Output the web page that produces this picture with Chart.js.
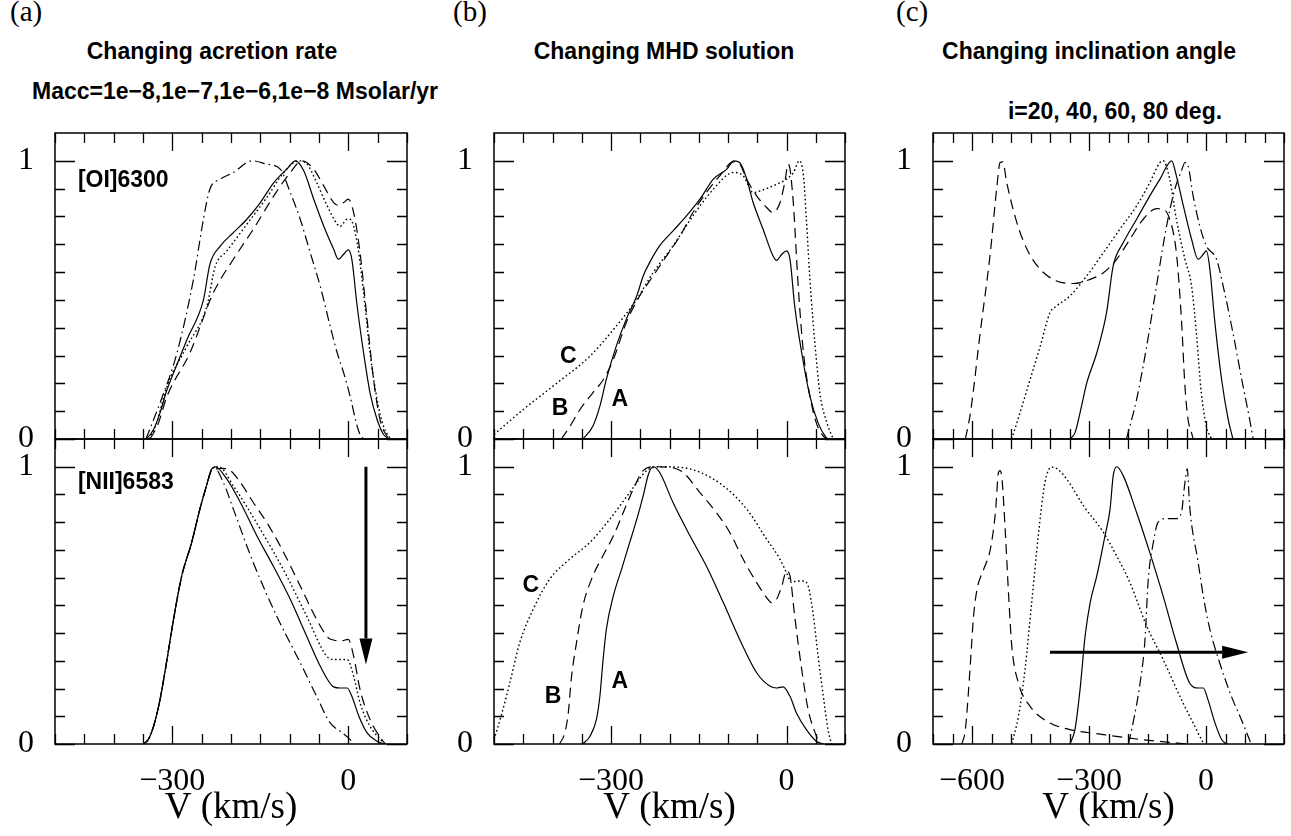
<!DOCTYPE html>
<html>
<head>
<meta charset="utf-8">
<script src="https://cdn.jsdelivr.net/npm/chart.js@4.4.1/dist/chart.umd.min.js"></script>
<style>
    body { margin: 0; background: #fff; width: 1291px; height: 836px; position: relative; overflow: hidden; }
    canvas { position: absolute; left: 0; top: 0; }
    .hd { position: absolute; white-space: nowrap; line-height: 1; color: #000; }
    .lab { font-family: "Liberation Serif", serif; font-size: 29px; }
    .ttl { font-family: "Liberation Sans", Arial, sans-serif; font-weight: bold; font-size: 23px; transform: translateX(-50%); }
</style>
</head>
<body>
<div class="hd lab" style="left:10px;top:-3px">(a)</div>
<div class="hd lab" style="left:453px;top:-3px">(b)</div>
<div class="hd lab" style="left:896px;top:-3px">(c)</div>
<div class="hd ttl" style="left:212px;top:40px">Changing acretion rate</div>
<div class="hd ttl" style="left:664px;top:40px">Changing MHD solution</div>
<div class="hd ttl" style="left:1089px;top:40px">Changing inclination angle</div>
<div class="hd ttl" style="left:235px;top:80px">Macc=1e−8,1e−7,1e−6,1e−8 Msolar/yr</div>
<div class="hd ttl" style="left:1115px;top:100px">i=20, 40, 60, 80 deg.</div>

<canvas id="c0" width="1291" height="836"></canvas>
<canvas id="c1" width="1291" height="836"></canvas>
<canvas id="c2" width="1291" height="836"></canvas>
<canvas id="c3" width="1291" height="836"></canvas>
<canvas id="c4" width="1291" height="836"></canvas>
<canvas id="c5" width="1291" height="836"></canvas>

<script>
// tick labels
const velTicksAB = [-300, 0];
const velTicksC = [-600, -300, 0];
const fluxTicks = [0, 1];

// (a) changing accretion rate, pairs of [V km/s, normalised flux]
const rateOI_solid = [[-350,0],[-343,0.004],[-332,0.034],[-321,0.094],[-309,0.178],[-298,0.237],[-275,0.358],[-247,0.50],[-236,0.628],[-218,0.694],[-196,0.742],[-173,0.79],[-150,0.85],[-127,0.922],[-105,0.97],[-90,1.0],[-76,0.964],[-59,0.862],[-42,0.766],[-25,0.682],[-17,0.646],[-8,0.664],[0,0.68],[6,0.646],[15,0.478],[26,0.31],[37,0.166],[49,0.07],[60,0.016],[69,0]];
const rateOI_dot = [[-340,0],[-328,0.05],[-309,0.19],[-275,0.334],[-241,0.478],[-227,0.62],[-207,0.676],[-173,0.772],[-139,0.868],[-110,0.958],[-85,1.0],[-71,0.99],[-54,0.922],[-36,0.838],[-19,0.772],[-14,0.764],[-2,0.79],[3,0.79],[15,0.706],[26,0.526],[37,0.31],[49,0.142],[60,0.046],[72,0]];
const rateOI_dash = [[-338,0],[-325,0.05],[-309,0.154],[-270,0.31],[-230,0.526],[-196,0.646],[-162,0.754],[-127,0.874],[-99,0.958],[-79,1.0],[-59,0.97],[-42,0.91],[-25,0.85],[-17,0.84],[-8,0.85],[0,0.862],[9,0.814],[20,0.67],[32,0.43],[43,0.214],[54,0.07],[66,0.01],[72,0]];
const rateOI_dd = [[-345,0],[-321,0.13],[-292,0.31],[-264,0.574],[-247,0.79],[-236,0.898],[-218,0.934],[-196,0.958],[-164,1.0],[-139,0.988],[-116,0.97],[-99,0.886],[-82,0.79],[-65,0.67],[-48,0.55],[-31,0.406],[-19,0.31],[-8,0.238],[3,0.154],[15,0.046],[20,0.016],[26,0]];

const rateNII_solid = [[-349,0],[-341,0.016],[-332,0.064],[-321,0.16],[-310,0.293],[-298,0.449],[-284,0.606],[-267,0.727],[-253,0.847],[-241,0.937],[-233,0.992],[-227,1.0],[-207,0.955],[-184,0.871],[-156,0.751],[-128,0.642],[-99,0.522],[-71,0.389],[-48,0.281],[-25,0.206],[-14,0.202],[-2,0.202],[6,0.172],[18,0.1],[32,0.04],[49,0.01],[60,0]];
const rateNII_dot = [[-349,0],[-341,0.016],[-332,0.064],[-321,0.16],[-310,0.293],[-298,0.449],[-284,0.606],[-267,0.727],[-253,0.847],[-241,0.937],[-233,0.99],[-221,1.0],[-196,0.931],[-150,0.775],[-105,0.606],[-71,0.461],[-37,0.317],[-25,0.305],[-2,0.305],[9,0.245],[20,0.148],[37,0.064],[55,0.016],[63,0]];
const rateNII_dash = [[-349,0],[-341,0.016],[-332,0.064],[-321,0.16],[-310,0.293],[-298,0.449],[-284,0.606],[-267,0.727],[-253,0.847],[-241,0.937],[-233,0.985],[-216,0.994],[-201,0.986],[-184,0.943],[-162,0.871],[-139,0.799],[-116,0.714],[-82,0.57],[-54,0.449],[-34,0.383],[-25,0.375],[-14,0.371],[0,0.377],[9,0.317],[20,0.196],[37,0.088],[55,0.022],[63,0]];
const rateNII_dd = [[-349,0],[-341,0.016],[-332,0.064],[-321,0.16],[-310,0.293],[-298,0.449],[-284,0.606],[-267,0.727],[-253,0.847],[-241,0.937],[-233,0.992],[-230,1.0],[-213,0.943],[-196,0.847],[-162,0.654],[-122,0.461],[-82,0.293],[-54,0.172],[-31,0.076],[-14,0.046],[3,0.016],[9,0]];

// (b) changing MHD solution A (solid), B (dashed), C (dotted)
const mhdOI_A = [[-348,0],[-331,0.046],[-319,0.118],[-308,0.214],[-291,0.334],[-274,0.43],[-256,0.514],[-245,0.586],[-234,0.634],[-217,0.694],[-194,0.748],[-171,0.802],[-148,0.862],[-125,0.934],[-102,0.97],[-90,1.0],[-80,0.994],[-68,0.934],[-57,0.85],[-40,0.754],[-23,0.658],[-17,0.642],[-8,0.664],[0,0.676],[6,0.646],[14,0.478],[26,0.31],[40,0.154],[54,0.058],[66,0.01],[71,0]];
const mhdOI_B = [[-385,0],[-370,0.046],[-353,0.106],[-331,0.166],[-313,0.214],[-296,0.286],[-274,0.418],[-251,0.514],[-228,0.586],[-205,0.658],[-182,0.73],[-160,0.814],[-137,0.886],[-114,0.946],[-91,0.996],[-80,0.988],[-68,0.934],[-51,0.874],[-34,0.832],[-23,0.814],[-11,0.85],[-3,0.922],[3,0.988],[6,0.97],[12,0.838],[20,0.55],[29,0.31],[40,0.154],[51,0.058],[63,0.01],[69,0]];
const mhdOI_C = [[-500,0.016],[-450,0.106],[-393,0.2],[-336,0.298],[-291,0.406],[-256,0.502],[-228,0.598],[-194,0.694],[-160,0.802],[-125,0.898],[-91,0.958],[-74,0.946],[-57,0.886],[-45,0.892],[-23,0.91],[0,0.934],[12,0.958],[22,1.0],[29,0.946],[34,0.79],[40,0.574],[49,0.334],[57,0.166],[69,0.058],[80,0]];

const mhdNII_A = [[-348,0],[-336,0.028],[-325,0.088],[-319,0.172],[-314,0.293],[-308,0.413],[-296,0.534],[-282,0.63],[-268,0.727],[-256,0.81],[-245,0.895],[-236,0.973],[-228,1.0],[-217,0.98],[-194,0.871],[-165,0.751],[-137,0.642],[-108,0.51],[-80,0.377],[-51,0.257],[-28,0.208],[-17,0.202],[-6,0.206],[6,0.172],[17,0.112],[34,0.052],[51,0.01],[63,0]];
const mhdNII_B = [[-388,0],[-379,0.04],[-373,0.112],[-368,0.233],[-359,0.365],[-348,0.498],[-331,0.606],[-314,0.678],[-296,0.75],[-279,0.835],[-262,0.919],[-245,0.986],[-228,1.0],[-200,0.998],[-177,0.98],[-148,0.907],[-120,0.835],[-97,0.763],[-74,0.666],[-51,0.582],[-34,0.528],[-26,0.51],[-17,0.522],[-8,0.57],[0,0.624],[6,0.606],[14,0.461],[26,0.269],[37,0.124],[49,0.04],[57,0]];
const mhdNII_C = [[-500,0.016],[-488,0.1],[-473,0.22],[-456,0.365],[-433,0.486],[-405,0.594],[-371,0.666],[-336,0.727],[-302,0.811],[-268,0.907],[-239,0.986],[-217,1.0],[-182,0.998],[-148,0.98],[-108,0.931],[-68,0.847],[-34,0.739],[-11,0.666],[0,0.618],[9,0.582],[17,0.588],[29,0.588],[37,0.57],[46,0.461],[54,0.317],[63,0.172],[71,0.052],[77,0]];

// (c) changing inclination angle
const inclOI_dash = [[-617,0],[-604,0.094],[-579,0.382],[-553,0.67],[-536,0.91],[-528,0.994],[-521,0.996],[-511,0.922],[-485,0.778],[-459,0.682],[-425,0.61],[-383,0.568],[-340,0.559],[-297,0.574],[-263,0.598],[-229,0.646],[-195,0.718],[-161,0.79],[-127,0.828],[-110,0.826],[-93,0.79],[-76,0.67],[-63,0.43],[-54,0.19],[-46,0.07],[-37,0.022],[-33,0]];
const inclOI_dot = [[-498,0],[-477,0.094],[-451,0.214],[-425,0.334],[-400,0.454],[-383,0.478],[-349,0.514],[-306,0.586],[-263,0.67],[-221,0.754],[-178,0.838],[-144,0.922],[-118,0.994],[-110,1.0],[-93,0.934],[-76,0.79],[-54,0.646],[-37,0.55],[-24,0.37],[-12,0.166],[1,0.046],[14,0]];
const inclOI_solid = [[-349,0],[-336,0.022],[-323,0.094],[-306,0.2],[-280,0.31],[-255,0.454],[-238,0.622],[-212,0.706],[-178,0.79],[-144,0.874],[-118,0.934],[-88,1.0],[-76,0.946],[-58,0.838],[-37,0.718],[-20,0.646],[-7,0.664],[1,0.676],[10,0.61],[22,0.43],[40,0.214],[57,0.07],[69,0]];
const inclOI_dd = [[-204,0],[-178,0.142],[-152,0.334],[-127,0.55],[-101,0.766],[-80,0.898],[-63,0.964],[-54,0.994],[-46,0.982],[-33,0.874],[-16,0.766],[1,0.694],[27,0.646],[44,0.55],[69,0.382],[95,0.19],[112,0.07],[121,0]];

const inclNII_dash = [[-626,0],[-617,0.052],[-604,0.293],[-596,0.461],[-587,0.558],[-570,0.63],[-553,0.702],[-540,0.835],[-532,0.98],[-528,0.986],[-523,0.955],[-515,0.775],[-506,0.534],[-498,0.353],[-481,0.22],[-451,0.136],[-408,0.082],[-349,0.052],[-263,0.034],[-178,0.018],[-93,0.006],[-50,0]];
const inclNII_dot = [[-498,0],[-481,0.1],[-464,0.269],[-447,0.51],[-430,0.751],[-413,0.943],[-396,0.998],[-383,0.994],[-357,0.955],[-314,0.859],[-263,0.763],[-229,0.678],[-195,0.582],[-152,0.425],[-110,0.305],[-59,0.148],[-33,0.076],[-7,0.004],[-5,0]];
const inclNII_solid = [[-349,0],[-336,0.052],[-323,0.196],[-310,0.389],[-297,0.51],[-280,0.606],[-259,0.751],[-246,0.847],[-238,0.967],[-229,1.0],[-212,0.967],[-178,0.835],[-144,0.69],[-110,0.534],[-76,0.365],[-42,0.22],[-20,0.202],[-7,0.202],[5,0.16],[23,0.076],[40,0.016],[52,0]];
const inclNII_dd = [[-199,0],[-187,0.076],[-169,0.22],[-157,0.365],[-148,0.594],[-135,0.727],[-123,0.799],[-101,0.813],[-76,0.813],[-63,0.835],[-54,0.943],[-48,0.992],[-42,0.859],[-20,0.654],[-7,0.534],[10,0.413],[35,0.293],[65,0.172],[87,0.1],[108,0.028],[116,0]];

const W = 1291, H = 836;
const dashes = { solid: [], dot: [1.6, 2.6], dash: [10, 6], dd: [10, 4, 1.6, 4] };

// frame with inward ticks on all four sides, plus text notes and arrows
const framePlugin = {
    id: 'frame',
    afterDatasetsDraw(chart, args, opts) {
        const ctx = chart.ctx;
        const a = chart.chartArea;
        const x = chart.scales.x, y = chart.scales.y;
        ctx.save();
        ctx.strokeStyle = '#000';
        ctx.lineWidth = 1.5;
        ctx.strokeRect(a.left, a.top, a.right - a.left, a.bottom - a.top);
        ctx.lineWidth = 1.3;
        ctx.beginPath();
        for (let v = Math.ceil(x.min / 50) * 50; v <= x.max; v += 50) {
            const px = Math.round(x.getPixelForValue(v)) + 0.5;
            const len = v % 300 === 0 ? 18 : 10;
            ctx.moveTo(px, a.bottom); ctx.lineTo(px, a.bottom - len);
            ctx.moveTo(px, a.top); ctx.lineTo(px, a.top + len);
        }
        for (let k = 0; k <= 10; k++) {
            const py = Math.round(y.getPixelForValue(k / 10)) + 0.5;
            const len = (k === 0 || k === 10) ? 20 : 10;
            ctx.moveTo(a.left, py); ctx.lineTo(a.left + len, py);
            ctx.moveTo(a.right, py); ctx.lineTo(a.right - len, py);
        }
        ctx.stroke();

        ctx.fillStyle = '#000';
        ctx.font = 'bold 23px "Liberation Sans", Arial, sans-serif';
        ctx.textBaseline = 'middle';
        (opts.notes || []).forEach(n => {
            ctx.textAlign = n.align || 'center';
            ctx.fillText(n.text, x.getPixelForValue(n.v), y.getPixelForValue(n.f));
        });

        if (opts.arrow) {
            const [v0, f0, v1, f1] = opts.arrow;
            const x0 = x.getPixelForValue(v0), y0 = y.getPixelForValue(f0);
            const x1 = x.getPixelForValue(v1), y1 = y.getPixelForValue(f1);
            const ang = Math.atan2(y1 - y0, x1 - x0);
            const hl = 26, hw = 6.5;
            ctx.lineWidth = 3;
            ctx.beginPath();
            ctx.moveTo(x0, y0);
            ctx.lineTo(x1 - hl * Math.cos(ang), y1 - hl * Math.sin(ang));
            ctx.stroke();
            ctx.beginPath();
            ctx.moveTo(x1, y1);
            ctx.lineTo(x1 - hl * Math.cos(ang) - hw * Math.sin(ang), y1 - hl * Math.sin(ang) + hw * Math.cos(ang));
            ctx.lineTo(x1 - hl * Math.cos(ang) + hw * Math.sin(ang), y1 - hl * Math.sin(ang) - hw * Math.cos(ang));
            ctx.closePath();
            ctx.fill();
        }
        ctx.restore();
    }
};

function makePanel(id, box, range, velTicks, series, showX, notes, arrow) {
    const yW = 45;
    const datasets = series.map(s => ({
        data: s[0].map(p => ({ x: p[0], y: p[1] })),
        borderColor: '#000',
        borderWidth: s[1] === 'dot' ? 1.4 : 1.2,
        borderDash: dashes[s[1]],
        pointRadius: 0,
        fill: false,
        cubicInterpolationMode: 'monotone'
    }));
    new Chart(document.getElementById(id), {
        type: 'line',
        data: { datasets: datasets },
        plugins: [framePlugin],
        options: {
            responsive: false,
            animation: false,
            devicePixelRatio: 1,
            layout: { padding: { left: box.left - yW, top: box.top, right: W - box.right, bottom: showX ? 0 : H - box.bottom } },
            plugins: {
                legend: { display: false },
                tooltip: { enabled: false },
                frame: { notes: notes, arrow: arrow }
            },
            scales: {
                x: {
                    type: 'linear', min: range[0], max: range[1], display: showX,
                    grid: { display: false, drawTicks: false }, border: { display: false },
                    afterBuildTicks: s => { s.ticks = velTicks.map(v => ({ value: v })); },
                    afterFit: s => { s.height = showX ? H - box.bottom : 0; },
                    ticks: {
                        autoSkip: false, maxRotation: 0, padding: 18, color: '#000',
                        font: { family: '"Liberation Serif", serif', size: 32 },
                        callback: v => String(v).replace('-', '\u2212')
                    },
                    title: {
                        display: true, text: 'V (km/s)', color: '#000',
                        font: { family: '"Liberation Serif", serif', size: 37 },
                        padding: { top: 0, bottom: 6 }
                    }
                },
                y: {
                    type: 'linear', min: 0, max: 1.1,
                    grid: { display: false, drawTicks: false }, border: { display: false },
                    afterBuildTicks: s => { s.ticks = fluxTicks.map(v => ({ value: v })); },
                    afterFit: s => { s.width = yW; },
                    ticks: { autoSkip: false, padding: 21, color: '#000', font: { family: '"Liberation Serif", serif', size: 32 } }
                }
            }
        }
    });
}

const topRow = { top: 133, bottom: 439 }, botRow = { top: 439, bottom: 744 };
const colA = { left: 55, right: 407 }, colB = { left: 494, right: 845 }, colC = { left: 933, right: 1284 };

makePanel('c0', Object.assign({}, colA, topRow), [-500, 100], velTicksAB,
    [[rateOI_solid, 'solid'], [rateOI_dot, 'dot'], [rateOI_dash, 'dash'], [rateOI_dd, 'dd']], false,
    [{ text: '[OI]6300', v: -461, f: 0.93, align: 'left' }], null);
makePanel('c1', Object.assign({}, colA, botRow), [-500, 100], velTicksAB,
    [[rateNII_solid, 'solid'], [rateNII_dot, 'dot'], [rateNII_dash, 'dash'], [rateNII_dd, 'dd']], true,
    [{ text: '[NII]6583', v: -461, f: 0.944, align: 'left' }], [30, 1.0, 30, 0.287]);
makePanel('c2', Object.assign({}, colB, topRow), [-500, 100], velTicksAB,
    [[mhdOI_A, 'solid'], [mhdOI_B, 'dash'], [mhdOI_C, 'dot']], false,
    [{ text: 'C', v: -373, f: 0.295 }, { text: 'B', v: -387, f: 0.11 }, { text: 'A', v: -285, f: 0.14 }], null);
makePanel('c3', Object.assign({}, colB, botRow), [-500, 100], velTicksAB,
    [[mhdNII_A, 'solid'], [mhdNII_B, 'dash'], [mhdNII_C, 'dot']], true,
    [{ text: 'C', v: -437, f: 0.572 }, { text: 'B', v: -399, f: 0.172 }, { text: 'A', v: -285, f: 0.225 }], null);
makePanel('c4', Object.assign({}, colC, topRow), [-700, 200], velTicksC,
    [[inclOI_solid, 'solid'], [inclOI_dot, 'dot'], [inclOI_dash, 'dash'], [inclOI_dd, 'dd']], false, [], null);
makePanel('c5', Object.assign({}, colC, botRow), [-700, 200], velTicksC,
    [[inclNII_solid, 'solid'], [inclNII_dot, 'dot'], [inclNII_dash, 'dash'], [inclNII_dd, 'dd']], true, [],
    [-400, 0.331, 108, 0.331]);
</script>
</body>
</html>
